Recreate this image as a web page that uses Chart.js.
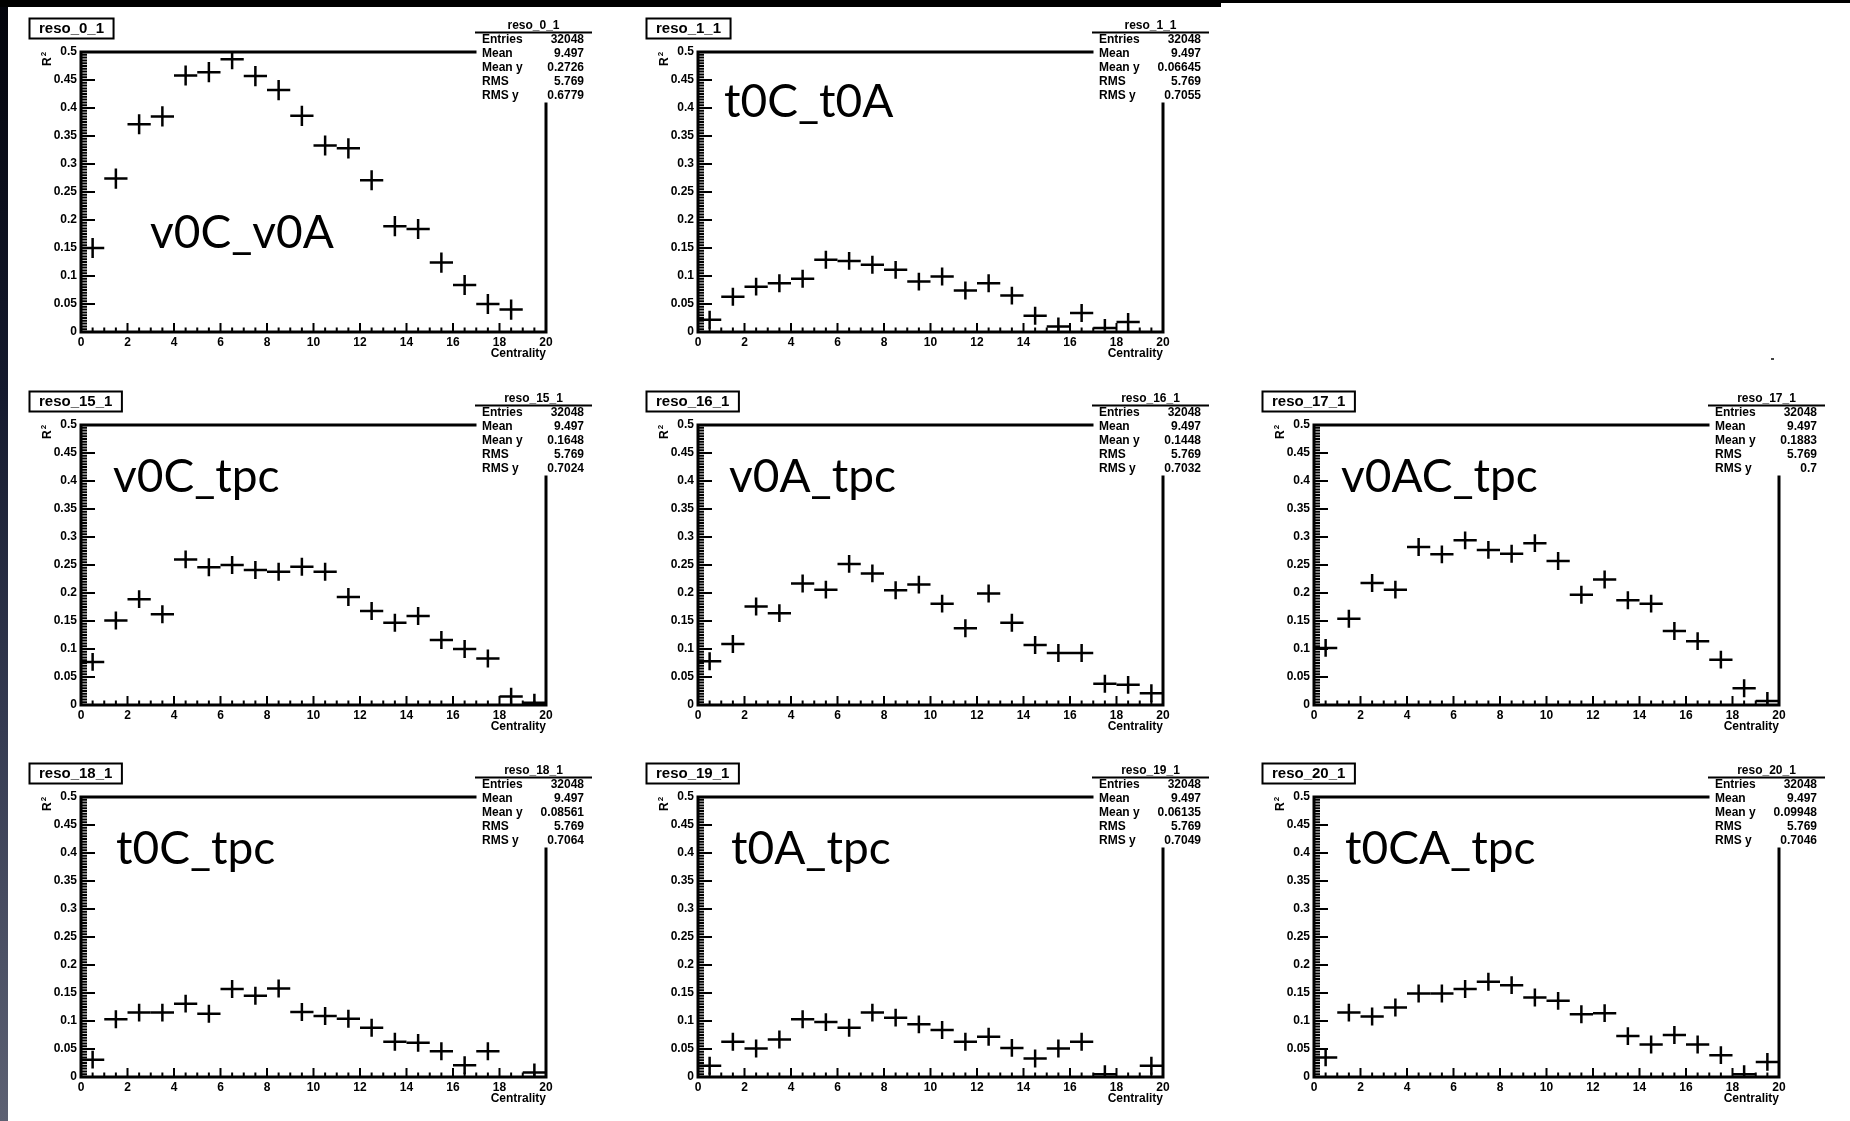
<!DOCTYPE html>
<html>
<head>
<meta charset="utf-8">
<script src="https://cdn.jsdelivr.net/npm/chart.js@4"></script>
<style>
  body { margin: 0; background: #fff; width: 1850px; height: 1121px; overflow: hidden; position: relative; }
  #franjaIzq { position: absolute; left: 0; top: 0; width: 8px; height: 1121px;
    background: linear-gradient(to bottom, #03040b 0%, #151a2e 35%, #353b52 65%, #5d6173 100%); }
  #barraSup { position: absolute; left: 0; top: 0; width: 1221px; height: 7px; background: #000; }
  #barraSup2 { position: absolute; left: 1221px; top: 0; width: 629px; height: 3px; background: #000; }
  #punto { position: absolute; left: 1771px; top: 358px; width: 3px; height: 2px; background: #444; }
  canvas { position: absolute; }
</style>
</head>
<body>
<div id="franjaIzq"></div>
<div id="barraSup"></div>
<div id="barraSup2"></div>
<div id="punto"></div>

<script>
// bins de centralidad (centro de cada bin)
const centralidad = [0.5, 1.5, 2.5, 3.5, 4.5, 5.5, 6.5, 7.5, 8.5, 9.5,
  10.5, 11.5, 12.5, 13.5, 14.5, 15.5, 16.5, 17.5, 18.5, 19.5];
const etiquetasX = ['0', '2', '4', '6', '8', '10', '12', '14', '16', '18', '20'];
const etiquetasY = ['0', '0.05', '0.1', '0.15', '0.2', '0.25', '0.3', '0.35', '0.4', '0.45', '0.5'];

// R^2 por bin, null = bin vacio
const r2_v0C_v0A = [0.150, 0.274, 0.371, 0.385, 0.458, 0.464, 0.487, 0.457, 0.432, 0.386,
  0.333, 0.328, 0.271, 0.189, 0.184, 0.124, 0.084, 0.050, 0.040, null];
const r2_t0C_t0A = [0.022, 0.063, 0.081, 0.087, 0.095, 0.129, 0.127, 0.120, 0.111, 0.090,
  0.099, 0.074, 0.087, 0.065, 0.029, 0.010, 0.034, 0.007, 0.018, null];
const r2_v0C_tpc = [0.077, 0.151, 0.189, 0.162, 0.260, 0.246, 0.250, 0.241, 0.238, 0.247,
  0.238, 0.193, 0.168, 0.147, 0.159, 0.116, 0.100, 0.083, 0.015, 0.004];
const r2_v0A_tpc = [0.078, 0.109, 0.176, 0.164, 0.217, 0.206, 0.252, 0.235, 0.205, 0.215,
  0.181, 0.137, 0.199, 0.147, 0.107, 0.093, 0.093, 0.038, 0.036, 0.021];
const r2_v0AC_tpc = [0.102, 0.154, 0.218, 0.206, 0.282, 0.269, 0.294, 0.277, 0.270, 0.289,
  0.257, 0.197, 0.224, 0.187, 0.181, 0.132, 0.114, 0.081, 0.030, 0.007];
const r2_t0C_tpc = [0.031, 0.103, 0.115, 0.115, 0.131, 0.113, 0.157, 0.145, 0.158, 0.116,
  0.109, 0.104, 0.088, 0.063, 0.061, 0.046, 0.021, 0.046, null, 0.008];
const r2_t0A_tpc = [0.020, 0.063, 0.051, 0.067, 0.103, 0.098, 0.088, 0.115, 0.106, 0.094,
  0.084, 0.063, 0.072, 0.052, 0.033, 0.051, 0.063, 0.005, null, 0.020];
const r2_t0CA_tpc = [0.035, 0.115, 0.108, 0.124, 0.149, 0.149, 0.157, 0.170, 0.164, 0.142,
  0.136, 0.112, 0.114, 0.073, 0.058, 0.075, 0.058, 0.039, 0.005, 0.027];

const series = [r2_v0C_v0A, r2_t0C_t0A, r2_v0C_tpc, r2_v0A_tpc, r2_v0AC_tpc, r2_t0C_tpc, r2_t0A_tpc, r2_t0CA_tpc];
const errorY = [0.018, 0.016, 0.016, 0.016, 0.016, 0.016, 0.016, 0.016];

const nombresHisto = ['reso_0_1', 'reso_1_1', 'reso_15_1', 'reso_16_1', 'reso_17_1', 'reso_18_1', 'reso_19_1', 'reso_20_1'];
const textosPanel = ['v0C_v0A', 't0C_t0A', 'v0C_tpc', 'v0A_tpc', 'v0AC_tpc', 't0C_tpc', 't0A_tpc', 't0CA_tpc'];

// caja de estadisticas
const statEntries = ['32048', '32048', '32048', '32048', '32048', '32048', '32048', '32048'];
const statMean = ['9.497', '9.497', '9.497', '9.497', '9.497', '9.497', '9.497', '9.497'];
const statMeanY = ['0.2726', '0.06645', '0.1648', '0.1448', '0.1883', '0.08561', '0.06135', '0.09948'];
const statRMS = ['5.769', '5.769', '5.769', '5.769', '5.769', '5.769', '5.769', '5.769'];
const statRMSY = ['0.6779', '0.7055', '0.7024', '0.7032', '0.7', '0.7064', '0.7049', '0.7046'];

// columna, fila y posicion del texto grande de cada panel
const celdas = [[0, 0], [1, 0], [0, 1], [1, 1], [2, 1], [0, 2], [1, 2], [2, 2]];
const posTexto = [[150, 248], [107, 117], [113, 119], [112, 119], [108, 119], [116, 119], [114, 119], [112, 119]];

const FUENTE = '"Liberation Sans", Arial, sans-serif';
const ANCHO = 616, ALTO = 372;

function marcoRoot(k) {
  return {
    id: 'marcoRoot',
    afterDatasetsDraw(chart) {
      const { ctx, chartArea: a, scales: { x, y } } = chart;
      const e = errorY[k];
      ctx.save();
      ctx.beginPath();
      ctx.rect(a.left, a.top, a.right - a.left, a.bottom - a.top);
      ctx.clip();
      ctx.strokeStyle = '#000';
      ctx.lineWidth = 2.5;
      chart.data.datasets[0].data.forEach(p => {
        const px = x.getPixelForValue(p.x);
        const py = y.getPixelForValue(p.y);
        ctx.beginPath();
        ctx.moveTo(x.getPixelForValue(p.x - 0.5), py);
        ctx.lineTo(x.getPixelForValue(p.x + 0.5), py);
        ctx.moveTo(px, y.getPixelForValue(p.y - e));
        ctx.lineTo(px, y.getPixelForValue(p.y + e));
        ctx.stroke();
      });
      ctx.restore();
    },
    afterDraw(chart) {
      const { ctx, chartArea: a, scales: { x, y } } = chart;
      const statIzq = 475, statDer = 592, statAbajo = 104;
      ctx.save();
      ctx.strokeStyle = '#000';
      ctx.fillStyle = '#000';

      // marco
      ctx.lineWidth = 3;
      ctx.lineCap = 'square';
      ctx.beginPath();
      ctx.moveTo(statIzq, a.top);
      ctx.lineTo(a.left, a.top);
      ctx.lineTo(a.left, a.bottom);
      ctx.lineTo(a.right, a.bottom);
      ctx.lineTo(a.right, statAbajo);
      ctx.stroke();

      // marcas del eje y
      ctx.lineWidth = 2;
      ctx.lineCap = 'butt';
      ctx.beginPath();
      for (let i = 0; i <= 100; i++) {
        const py = y.getPixelForValue(i * 0.005);
        const largo = i % 10 === 0 ? 14 : 6;
        ctx.moveTo(a.left, py);
        ctx.lineTo(a.left + largo, py);
      }
      // marcas del eje x
      for (let i = 0; i <= 40; i++) {
        const px = x.getPixelForValue(i * 0.5);
        const largo = i % 4 === 0 ? 9 : 4.5;
        ctx.moveTo(px, a.bottom);
        ctx.lineTo(px, a.bottom - largo);
      }
      ctx.stroke();

      // caja del titulo
      ctx.font = 'bold 15px ' + FUENTE;
      const wt = ctx.measureText(nombresHisto[k]).width;
      ctx.lineWidth = 2;
      ctx.strokeRect(29.5, 18.5, wt + 19, 20);
      ctx.textBaseline = 'middle';
      ctx.textAlign = 'left';
      ctx.fillText(nombresHisto[k], 39, 29);

      // estadisticas
      ctx.font = 'bold 12px ' + FUENTE;
      ctx.textAlign = 'center';
      ctx.fillText(nombresHisto[k], (statIzq + statDer) / 2, 25.5);
      ctx.beginPath();
      ctx.moveTo(statIzq, 32.5);
      ctx.lineTo(statDer, 32.5);
      ctx.stroke();
      const filas = [['Entries', statEntries[k]], ['Mean', statMean[k]], ['Mean y', statMeanY[k]],
        ['RMS', statRMS[k]], ['RMS y', statRMSY[k]]];
      filas.forEach((f, i) => {
        const fy = 39.5 + i * 14;
        ctx.textAlign = 'left';
        ctx.fillText(f[0], 482, fy);
        ctx.textAlign = 'right';
        ctx.fillText(f[1], 584, fy);
      });

      // titulo del eje x
      ctx.textAlign = 'right';
      ctx.fillText('Centrality', a.right, 353.5);

      // titulo del eje y (R^2 girado)
      ctx.save();
      ctx.translate(48, 66);
      ctx.rotate(-Math.PI / 2);
      ctx.textAlign = 'left';
      ctx.font = 'bold 12px ' + FUENTE;
      ctx.fillText('R', 0, 0);
      const wr = ctx.measureText('R').width;
      ctx.font = 'bold 8px ' + FUENTE;
      ctx.fillText('2', wr + 1, -4);
      ctx.restore();

      // nombre grande del par de detectores
      ctx.font = '46px Lato, "Open Sans", sans-serif';
      ctx.textAlign = 'left';
      ctx.textBaseline = 'alphabetic';
      ctx.fillText(textosPanel[k], posTexto[k][0], posTexto[k][1]);
      ctx.restore();
    }
  };
}

function crearPanel(k) {
  const canvas = document.createElement('canvas');
  canvas.width = ANCHO;
  canvas.height = ALTO;
  canvas.style.left = Math.round(celdas[k][0] * 616.5) + 'px';
  canvas.style.top = Math.round(celdas[k][1] * 372.5) + 'px';
  document.body.appendChild(canvas);

  const puntos = [];
  centralidad.forEach((c, i) => {
    if (series[k][i] !== null) puntos.push({ x: c, y: series[k][i] });
  });

  const fuenteTicks = { family: FUENTE, size: 12, weight: 'bold' };
  new Chart(canvas.getContext('2d'), {
    type: 'scatter',
    data: { datasets: [{ data: puntos, pointRadius: 0, pointHoverRadius: 0, showLine: false }] },
    options: {
      responsive: false,
      animation: false,
      layout: { padding: { left: 21, top: 52, right: 70, bottom: 10 } },
      plugins: { legend: { display: false }, tooltip: { enabled: false } },
      scales: {
        x: {
          type: 'linear', min: 0, max: 20,
          grid: { display: false, drawTicks: false },
          border: { display: false },
          ticks: {
            stepSize: 2, color: '#000', font: fuenteTicks, padding: 3, maxRotation: 0, autoSkip: false,
            callback: v => etiquetasX[Math.round(v / 2)]
          },
          afterFit: s => { s.height = 30; }
        },
        y: {
          type: 'linear', min: 0, max: 0.5,
          grid: { display: false, drawTicks: false },
          border: { display: false },
          ticks: {
            stepSize: 0.05, color: '#000', font: fuenteTicks, padding: 4, autoSkip: false,
            callback: v => etiquetasY[Math.round(v / 0.05)]
          },
          afterFit: s => { s.width = 60; }
        }
      }
    },
    plugins: [marcoRoot(k)]
  });
}

for (let k = 0; k < series.length; k++) crearPanel(k);
</script>
</body>
</html>
